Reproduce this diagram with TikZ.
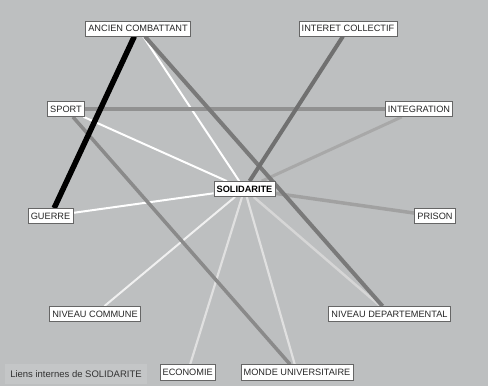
\documentclass[tikz,border=0pt]{standalone}
\usepackage{fontspec}
\setmainfont{Liberation Sans}
\definecolor{fondgris}{HTML}{BDBFC0}
\definecolor{legendegris}{HTML}{C4C6C7}
\pgfdeclarelayer{liens}
\pgfsetlayers{liens,main}
\begin{document}
\begin{tikzpicture}[x=1pt,y=-1pt,
  mot/.style={draw=black!60,fill=white,line width=0.6pt,text=black!85,
    font=\fontsize{9.2}{11}\selectfont,inner xsep=2.7pt,inner ysep=4.3pt,
    text height=6.6pt,text depth=0pt},
  lien/.style={line width=#1}]
\begin{pgfonlayer}{liens}
\fill[fondgris] (0,0) rectangle (488,386);
\end{pgfonlayer}
\node[mot] (AC) at (138,28.5) {ANCIEN COMBATTANT};
\node[mot] (IC) at (348,28.5) {INTERET COLLECTIF};
\node[mot] (SP) at (66,109) {SPORT};
\node[mot] (IN) at (419,109) {INTEGRATION};
\node[mot,font=\fontsize{9.2}{11}\selectfont\bfseries,text=black] (SO) at (244.5,189) {SOLIDARITE};
\node[mot] (GU) at (50.5,216) {GUERRE};
\node[mot] (PR) at (435,216) {PRISON};
\node[mot] (NC) at (95,314) {NIVEAU COMMUNE};
\node[mot] (ND) at (389.5,314) {NIVEAU DEPARTEMENTAL};
\node[mot] (EC) at (187.7,372.3) {ECONOMIE};
\node[mot] (MU) at (297,372.3) {MONDE UNIVERSITAIRE};
\node[fill=legendegris,minimum width=142pt,minimum height=20pt,inner sep=0pt,
  text=black!80,font=\fontsize{9.5}{11}\selectfont] (LEG) at (76,374) {Liens internes de SOLIDARITE};
\begin{pgfonlayer}{liens}
% liens faibles d'abord, liens forts par-dessus
\draw[lien=2pt,white] (SP) -- (SO);
\draw[lien=2pt,white] (AC) -- (SO);
\draw[lien=2pt,white] (SO) -- (GU);
\draw[lien=2pt,black!6] (SO) -- (NC);
\draw[lien=2.2pt,black!12] (SO) -- (EC);
\draw[lien=2.2pt,black!12] (SO) -- (MU);
\draw[lien=2.5pt,black!16] (SO) -- (ND);
\draw[lien=3pt,black!34] (IN) -- (SO);
\draw[lien=3.5pt,black!37] (SO) -- (PR);
\draw[lien=3.5pt,black!43] (SP) -- (IN);
\draw[lien=3.5pt,black!46] (SP) -- (MU);
\draw[lien=4pt,black!52] (AC) -- (ND);
\draw[lien=4pt,black!56] (IC) -- (SO);
\draw[lien=5.5pt,black] (AC) -- (GU);
\end{pgfonlayer}
\end{tikzpicture}
\end{document}
